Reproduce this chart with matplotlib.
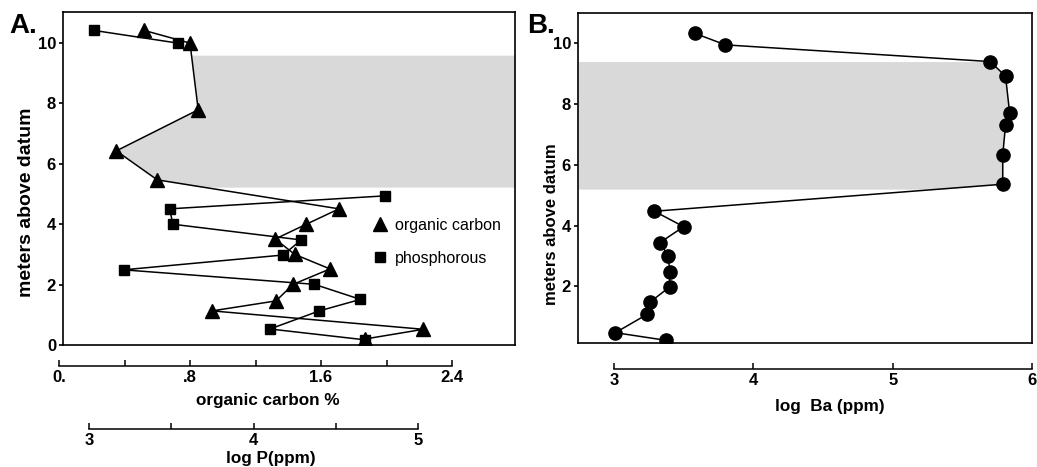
import numpy as np
import matplotlib.pyplot as plt

plt.rcParams['font.family'] = ['Liberation Sans', 'DejaVu Sans']

# panel A: organic carbon (%) vs meters above datum
oc_depth = [10.42, 10.0, 7.79, 6.43, 5.47, 4.51, 4.0, 3.51, 3.0, 2.52, 2.01, 1.46, 1.13, 0.52, 0.2]
oc_value = [0.52, 0.80, 0.85, 0.35, 0.60, 1.71, 1.51, 1.32, 1.44, 1.655, 1.43, 1.325, 0.935, 2.225, 1.87]

# panel A: log P (ppm); line is broken after the first two samples
p_depth = [10.42, 10.0, 4.94, 4.51, 4.0, 3.48, 2.98, 2.49, 2.01, 1.51, 1.13, 0.53, 0.17]
p_value = [3.03, 3.54, 4.80, 3.49, 3.51, 4.29, 4.18, 3.21, 4.37, 4.65, 4.40, 4.10, 4.68]
p_break = 2

# panel B: log Ba (ppm)
ba_depth = [10.33, 9.95, 9.40, 8.92, 7.69, 7.31, 6.32, 5.36, 4.47, 3.96, 3.44, 2.99, 2.47, 1.98, 1.48, 1.08, 0.47, 0.22]
ba_value = [3.58, 3.80, 5.70, 5.81, 5.84, 5.81, 5.79, 5.79, 3.29, 3.50, 3.33, 3.39, 3.40, 3.40, 3.26, 3.24, 3.01, 3.37]

# shaded intervals (meters)
shade_a = (5.23, 9.6)
shade_b = (5.2, 9.4)

oc_ticks = [0, 0.4, 0.8, 1.2, 1.6, 2.0, 2.4]
oc_labels = ['0.', '', '.8', '', '1.6', '', '2.4']
p_ticks = [3, 3.5, 4, 4.5, 5]
p_labels = ['3', '', '4', '', '5']
ba_ticks = [3, 4, 5, 6]

W, H = 1037, 467


def rect(x0, y0, x1, y1):
    return [x0 / W, 1 - y1 / H, (x1 - x0) / W, (y1 - y0) / H]


fig = plt.figure(figsize=(W / 100, H / 100), dpi=100)

# ---- panel A
ax_a = fig.add_axes(rect(63, 12, 515, 345))
oc_px = 163.75   # pixels per % organic carbon
p_px = 164.5     # pixels per log P unit
ax_a.set_xlim((63 - 59) / oc_px, (515 - 59) / oc_px)
ax_a.set_ylim(0, 11.03)
ax_a.set_xticks([])
ax_a.set_yticks([0, 2, 4, 6, 8, 10])

ys = np.linspace(shade_a[0], shade_a[1], 200)
xs = np.interp(ys, oc_depth[::-1], oc_value[::-1])
ax_a.fill_betweenx(ys, xs, ax_a.get_xlim()[1], color='#d9d9d9', lw=0, zorder=0)

tri, = ax_a.plot(oc_value, oc_depth, color='black', lw=1.1, marker='^', ms=10,
                 label='organic carbon', zorder=3)

ax_p = ax_a.twiny()
ax_p.set_xlim(3 + (63 - 89) / p_px, 3 + (515 - 89) / p_px)
ax_p.set_xticks([])
for s in ax_p.spines.values():
    s.set_visible(False)
ax_p.plot(p_value[:p_break], p_depth[:p_break], color='black', lw=1.1)
ax_p.plot(p_value[p_break:], p_depth[p_break:], color='black', lw=1.1)
sq, = ax_p.plot(p_value, p_depth, ls='none', marker='s', ms=7.5, color='black',
                label='phosphorous')

ax_p.legend(handles=[tri, sq], loc='center left', bbox_to_anchor=(0.655, 0.31),
            frameon=False, handlelength=0.8, handletextpad=0.55, labelspacing=1.15,
            fontsize=11.5, markerscale=1.0)
for h in ax_p.get_legend().legend_handles:
    h.set_linestyle('none')

# ---- panel B
ax_b = fig.add_axes(rect(578, 13, 1032, 343))
ba_px = 139.33
ax_b.set_xlim(3 + (578 - 614) / ba_px, 6.0)
ax_b.set_ylim(0.13, 11.0)
ax_b.set_xticks([])
ax_b.set_yticks([2, 4, 6, 8, 10])

ys = np.linspace(shade_b[0], shade_b[1], 200)
xs = np.interp(ys, ba_depth[::-1], ba_value[::-1])
ax_b.fill_betweenx(ys, ax_b.get_xlim()[0], xs, color='#d9d9d9', lw=0, zorder=0)
ax_b.plot(ba_value, ba_depth, color='black', lw=1.1, marker='o', ms=9.5, zorder=3)

for ax, lx, ly, fs in [(ax_a, -0.062, 0.43, 14), (ax_b, -0.042, 0.36, 12)]:
    for s in ax.spines.values():
        s.set_linewidth(1.2)
    ax.tick_params(axis='y', direction='out', length=3, width=1.2, pad=2,
                   labelsize=12)
    for t in ax.get_yticklabels():
        t.set_fontweight('bold')
    ax.set_ylabel('meters above datum', fontsize=fs, fontweight='bold')
    ax.yaxis.set_label_coords(lx, ly)

fig.text(9 / W, 1 - 33 / H, 'A.', fontsize=20, fontweight='bold', va='baseline')
fig.text(527 / W, 1 - 33 / H, 'B.', fontsize=20, fontweight='bold', va='baseline')


# ---- floating scale bars below the panels
def scale_bar(x0, x1, y, lim, ticks, labels):
    sb = fig.add_axes(rect(x0, y - 1, x1, y))
    sb.set_xlim(*lim)
    sb.set_yticks([])
    sb.patch.set_visible(False)
    for k in ('top', 'left', 'right'):
        sb.spines[k].set_visible(False)
    sb.spines['bottom'].set_linewidth(1.1)
    sb.set_xticks(ticks)
    sb.set_xticklabels(labels, fontweight='bold', fontsize=12)
    sb.tick_params(axis='x', direction='in', length=4, width=1.1, pad=3)
    return sb


scale_bar(59, 452, 366, (0, 2.4), oc_ticks, oc_labels)
scale_bar(89, 418, 429, (3, 5), p_ticks, p_labels)
scale_bar(614, 1032, 369, (3, 6), ba_ticks, [str(t) for t in ba_ticks])

fig.text(268 / W, 1 - 401 / H, 'organic carbon %', fontweight='bold',
         fontsize=12.3, ha='center', va='center')
fig.text(271 / W, 1 - 459 / H, 'log P(ppm)', fontweight='bold',
         fontsize=12.3, ha='center', va='center')
fig.text(830 / W, 1 - 406 / H, 'log  Ba (ppm)', fontweight='bold',
         fontsize=12.3, ha='center', va='center')

fig.savefig('out.png', dpi=100)
